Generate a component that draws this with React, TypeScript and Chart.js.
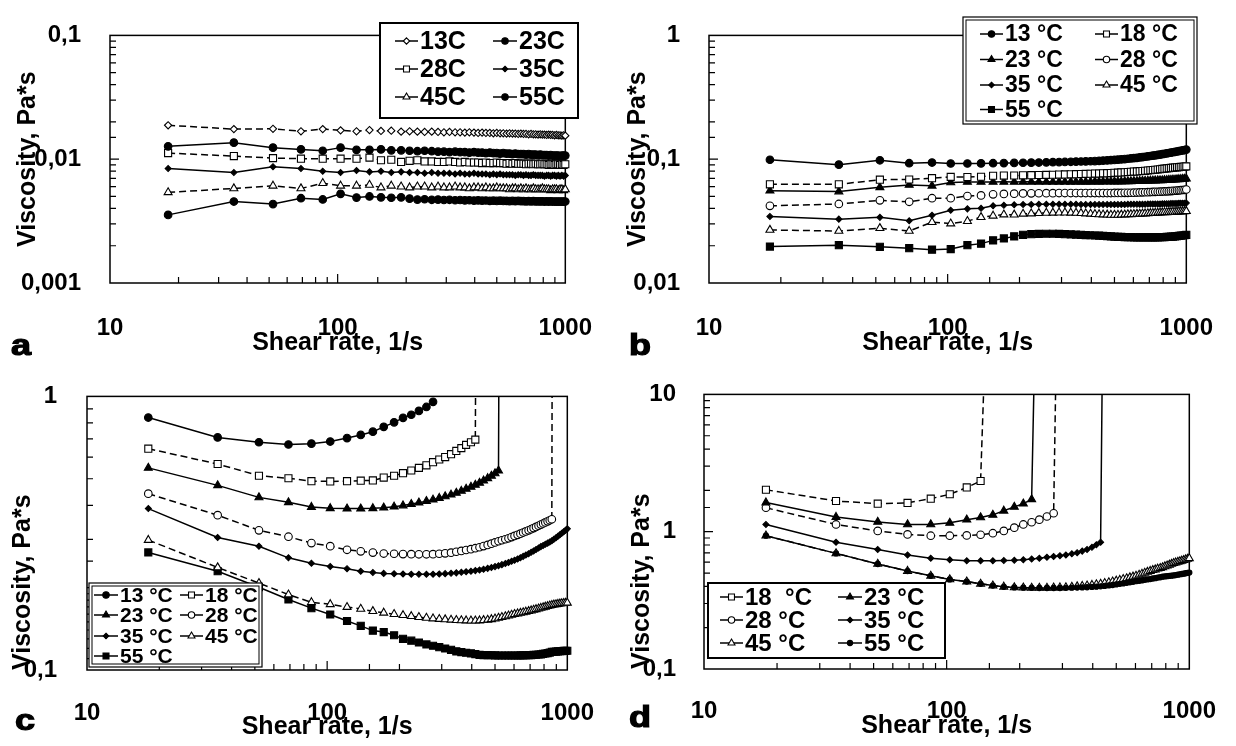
import { useEffect, useRef } from 'react';
import { Chart, registerables } from 'chart.js';

Chart.register(...registerables);

const FONT = "'Liberation Sans', Arial, Helvetica, sans-serif";

// shear rate, 1/s (measurement points)
const shearRate = [
  18, 35, 52, 69, 86, 103, 121, 138, 155, 172,
  190, 207, 224, 241, 259, 276, 293, 310, 328, 345,
  362, 379, 397, 414, 431, 448, 466, 483, 500, 517,
  534, 552, 569, 586, 603, 621, 638, 655, 672, 690,
  707, 724, 741, 759, 776, 793, 810, 828, 845, 862,
  879, 897, 914, 931, 948, 966, 983, 1000,
];

const xTickLabels = ['10', '100', '1000'];
const yTickLabelsA = ['0,001', '0,01', '0,1'];
const yTickLabelsB = ['0,01', '0,1', '1'];
const yTickLabelsC = ['0,1', '1'];
const yTickLabelsD = ['0,1', '1', '10'];

// ---------- panel a ----------
const a13 = [
  0.0188, 0.0175, 0.0176, 0.0168, 0.0175, 0.0171, 0.0168, 0.0172, 0.0169, 0.0170,
  0.0167, 0.0168, 0.0167, 0.0166, 0.0167, 0.0166, 0.0165, 0.0166, 0.0165, 0.0165,
  0.0164, 0.0165, 0.0164, 0.0163, 0.0164, 0.0163, 0.0163, 0.0162, 0.0163, 0.0162,
  0.0162, 0.0161, 0.0162, 0.0161, 0.0161, 0.0160, 0.0161, 0.0160, 0.0160, 0.0159,
  0.0160, 0.0159, 0.0159, 0.0158, 0.0159, 0.0158, 0.0158, 0.0157, 0.0158, 0.0157,
  0.0157, 0.0156, 0.0157, 0.0156, 0.0156, 0.0155, 0.0156, 0.0155,
];
const a23 = [
  0.0127, 0.0136, 0.0124, 0.0120, 0.0117, 0.0124, 0.0119, 0.0119, 0.0120, 0.0118,
  0.0118, 0.0117, 0.0116, 0.0117, 0.0116, 0.0115, 0.0115, 0.0114, 0.0115, 0.0114,
  0.0114, 0.0113, 0.0114, 0.0113, 0.0113, 0.0112, 0.0113, 0.0112, 0.0112, 0.0111,
  0.0112, 0.0111, 0.0111, 0.0110, 0.0111, 0.0110, 0.0110, 0.0110, 0.0109, 0.0110,
  0.0109, 0.0109, 0.0109, 0.0108, 0.0109, 0.0108, 0.0108, 0.0108, 0.0107, 0.0108,
  0.0107, 0.0107, 0.0107, 0.0107, 0.0106, 0.0107, 0.0107, 0.0107,
];
const a28 = [
  0.0112, 0.0106, 0.0102, 0.0101, 0.0101, 0.0101, 0.0101, 0.0103, 0.0098, 0.0099,
  0.0095, 0.0097, 0.0098, 0.0096, 0.0096, 0.0095, 0.0095, 0.0096, 0.0095, 0.0094,
  0.0095, 0.0094, 0.0094, 0.0094, 0.0093, 0.0094, 0.0093, 0.0093, 0.0094, 0.0093,
  0.0093, 0.0092, 0.0093, 0.0092, 0.0093, 0.0092, 0.0092, 0.0092, 0.0091, 0.0092,
  0.0092, 0.0091, 0.0092, 0.0091, 0.0091, 0.0092, 0.0091, 0.0091, 0.0090, 0.0091,
  0.0091, 0.0090, 0.0091, 0.0091, 0.0090, 0.0091, 0.0090, 0.0091,
];
const a35 = [
  0.0084, 0.0078, 0.0087, 0.0084, 0.0080, 0.0078, 0.0081, 0.0079, 0.0080, 0.0078,
  0.0079, 0.0078, 0.0078, 0.0077, 0.0078, 0.0077, 0.0077, 0.0077, 0.0076, 0.0077,
  0.0076, 0.0076, 0.0077, 0.0076, 0.0076, 0.0076, 0.0075, 0.0076, 0.0075, 0.0076,
  0.0075, 0.0075, 0.0075, 0.0075, 0.0074, 0.0075, 0.0075, 0.0074, 0.0075, 0.0074,
  0.0074, 0.0075, 0.0074, 0.0074, 0.0074, 0.0074, 0.0073, 0.0074, 0.0074, 0.0073,
  0.0074, 0.0074, 0.0073, 0.0074, 0.0073, 0.0074, 0.0073, 0.0074,
];
const a45 = [
  0.0054, 0.0058, 0.0061, 0.0058, 0.0064, 0.0061, 0.0061, 0.0062, 0.0059, 0.0061,
  0.0060, 0.0059, 0.0060, 0.0060, 0.0059, 0.0060, 0.0059, 0.0059, 0.0060, 0.0059,
  0.0059, 0.0058, 0.0059, 0.0059, 0.0058, 0.0059, 0.0058, 0.0058, 0.0059, 0.0058,
  0.0058, 0.0058, 0.0057, 0.0058, 0.0058, 0.0057, 0.0058, 0.0057, 0.0058, 0.0057,
  0.0057, 0.0058, 0.0057, 0.0057, 0.0057, 0.0058, 0.0057, 0.0057, 0.0057, 0.0056,
  0.0057, 0.0057, 0.0057, 0.0056, 0.0057, 0.0057, 0.0056, 0.0057,
];
const a55 = [
  0.00355, 0.00455, 0.00434, 0.00484, 0.00473, 0.00525, 0.00490, 0.00500, 0.00492, 0.00488,
  0.00492, 0.00480, 0.00472, 0.00475, 0.00470, 0.00472, 0.00468, 0.00470, 0.00466, 0.00468,
  0.00465, 0.00466, 0.00463, 0.00465, 0.00462, 0.00464, 0.00461, 0.00462, 0.00460, 0.00462,
  0.00460, 0.00461, 0.00459, 0.00460, 0.00458, 0.00460, 0.00458, 0.00459, 0.00457, 0.00458,
  0.00457, 0.00458, 0.00456, 0.00457, 0.00456, 0.00457, 0.00455, 0.00456, 0.00455, 0.00456,
  0.00455, 0.00455, 0.00454, 0.00455, 0.00454, 0.00455, 0.00454, 0.00455,
];

// ---------- panel b ----------
const b13 = [
  0.099, 0.0904, 0.098, 0.0928, 0.094, 0.0923, 0.0923, 0.0925, 0.0928, 0.093,
  0.0933, 0.0936, 0.0938, 0.094, 0.0943, 0.0946, 0.0948, 0.095, 0.0953, 0.0956,
  0.0958, 0.096, 0.0963, 0.0966, 0.097, 0.0974, 0.0978, 0.0982, 0.0987, 0.0992,
  0.0997, 0.1002, 0.1008, 0.1014, 0.102, 0.1026, 0.1033, 0.104, 0.1047, 0.1054,
  0.1061, 0.1068, 0.1075, 0.1082, 0.109, 0.1098, 0.1106, 0.1114, 0.1122, 0.113,
  0.1138, 0.1146, 0.1154, 0.1162, 0.117, 0.1178, 0.1186, 0.1195,
];
const b18 = [
  0.0627, 0.0627, 0.0683, 0.0686, 0.0703, 0.072, 0.0718, 0.0722, 0.0735, 0.0737,
  0.0739, 0.0741, 0.0743, 0.0745, 0.0747, 0.0749, 0.0751, 0.0753, 0.0755, 0.0757,
  0.0759, 0.0761, 0.0763, 0.0765, 0.0767, 0.0769, 0.0771, 0.0773, 0.0776, 0.0779,
  0.0782, 0.0785, 0.0788, 0.0791, 0.0794, 0.0797, 0.08, 0.0803, 0.0806, 0.081,
  0.0814, 0.0818, 0.0822, 0.0826, 0.083, 0.0834, 0.0838, 0.0842, 0.0846, 0.085,
  0.0854, 0.0857, 0.086, 0.0863, 0.0866, 0.0869, 0.0872, 0.0875,
];
const b23 = [
  0.0556, 0.0548, 0.0593, 0.062, 0.061, 0.0649, 0.0655, 0.0655, 0.0655, 0.0656,
  0.0655, 0.0656, 0.0656, 0.0655, 0.0656, 0.0656, 0.0656, 0.0657, 0.0656, 0.0657,
  0.0657, 0.0657, 0.0657, 0.0658, 0.0657, 0.0658, 0.0658, 0.0659, 0.0659, 0.066,
  0.066, 0.0661, 0.0662, 0.0663, 0.0664, 0.0665, 0.0666, 0.0667, 0.0668, 0.0669,
  0.067, 0.0671, 0.0672, 0.0673, 0.0674, 0.0675, 0.0677, 0.0678, 0.068, 0.0681,
  0.0683, 0.0684, 0.0686, 0.0688, 0.069, 0.0692, 0.0694, 0.0696,
];
const b28 = [
  0.042, 0.0435, 0.0465, 0.0453, 0.0484, 0.0484, 0.0504, 0.051, 0.052, 0.0524,
  0.0527, 0.0529, 0.053, 0.0531, 0.0532, 0.0532, 0.0533, 0.0533, 0.0533, 0.0533,
  0.0533, 0.0533, 0.0533, 0.0533, 0.0533, 0.0533, 0.0533, 0.0533, 0.0534, 0.0534,
  0.0534, 0.0535, 0.0535, 0.0536, 0.0537, 0.0538, 0.0539, 0.054, 0.0541, 0.0542,
  0.0543, 0.0544, 0.0545, 0.0546, 0.0547, 0.0548, 0.0549, 0.055, 0.0552, 0.0553,
  0.0555, 0.0556, 0.0558, 0.056, 0.0562, 0.0564, 0.0566, 0.0569,
];
const b35 = [
  0.0345, 0.0328, 0.0339, 0.0318, 0.0353, 0.0387, 0.0397, 0.0401, 0.042, 0.0424,
  0.0428, 0.043, 0.0431, 0.0432, 0.0432, 0.0432, 0.0432, 0.0432, 0.0432, 0.0432,
  0.0431, 0.0431, 0.0431, 0.0431, 0.0431, 0.0431, 0.0431, 0.0431, 0.0431, 0.0431,
  0.0431, 0.0431, 0.0432, 0.0432, 0.0432, 0.0432, 0.0433, 0.0433, 0.0433, 0.0434,
  0.0434, 0.0434, 0.0435, 0.0435, 0.0435, 0.0436, 0.0436, 0.0437, 0.0437, 0.0438,
  0.0438, 0.0439, 0.0439, 0.044, 0.044, 0.0441, 0.0441, 0.0442,
];
const b45 = [
  0.0268, 0.0263, 0.0277, 0.0263, 0.031, 0.0302, 0.0316, 0.034, 0.0349, 0.0357,
  0.0356, 0.0362, 0.0364, 0.0366, 0.0368, 0.0369, 0.037, 0.037, 0.0369, 0.0368,
  0.0366, 0.0364, 0.0362, 0.036, 0.0358, 0.0357, 0.0356, 0.0355, 0.0355, 0.0355,
  0.0356, 0.0357, 0.0358, 0.0359, 0.036, 0.0361, 0.0362, 0.0363, 0.0364, 0.0365,
  0.0366, 0.0367, 0.0368, 0.0369, 0.037, 0.0371, 0.0372, 0.0372, 0.0373, 0.0374,
  0.0375, 0.0375, 0.0376, 0.0377, 0.0377, 0.0378, 0.0379, 0.038,
];
const b55 = [
  0.0197, 0.0202, 0.0196, 0.0191, 0.0186, 0.0188, 0.0202, 0.0208, 0.0221, 0.0229,
  0.0238, 0.0245, 0.0248, 0.0249, 0.025, 0.025, 0.0249, 0.0248, 0.0247, 0.0246,
  0.0245, 0.0244, 0.0243, 0.0242, 0.0241, 0.024, 0.0239, 0.0238, 0.0237, 0.0236,
  0.0236, 0.0235, 0.0235, 0.0235, 0.0234, 0.0234, 0.0234, 0.0234, 0.0234, 0.0234,
  0.0234, 0.0234, 0.0234, 0.0234, 0.0235, 0.0235, 0.0235, 0.0236, 0.0236, 0.0237,
  0.0237, 0.0238, 0.0239, 0.024, 0.0241, 0.0242, 0.0243, 0.0245,
];

// ---------- panel c ----------
const c13 = [
  0.837, 0.708, 0.68, 0.667, 0.672, 0.684, 0.704, 0.723, 0.743, 0.774,
  0.804, 0.835, 0.857, 0.885, 0.915, 0.955,
];
const c18 = [
  0.644, 0.566, 0.513, 0.502, 0.49, 0.489, 0.49, 0.492, 0.493, 0.505,
  0.513, 0.524, 0.536, 0.548, 0.56, 0.575, 0.588, 0.6, 0.615, 0.632,
  0.647, 0.665, 0.68, 0.695, 1000,
];
const c23 = [
  0.548, 0.473, 0.4275, 0.41, 0.394, 0.39, 0.389, 0.389, 0.39, 0.392,
  0.395, 0.399, 0.404, 0.409, 0.414, 0.419, 0.425, 0.431, 0.437, 0.444,
  0.451, 0.459, 0.467, 0.475, 0.483, 0.492, 0.502, 0.512, 0.523, 0.535, 1000,
];
const c28 = [
  0.441, 0.368, 0.324, 0.307, 0.291, 0.2835, 0.275, 0.2715, 0.2686, 0.2665,
  0.266, 0.2653, 0.265, 0.2648, 0.2648, 0.265, 0.266, 0.267, 0.2685, 0.2705,
  0.2725, 0.2745, 0.2765, 0.2787, 0.281, 0.2837, 0.2866, 0.2895, 0.2925, 0.2955,
  0.298, 0.3005, 0.303, 0.306, 0.309, 0.312, 0.315, 0.318, 0.321, 0.324,
  0.327, 0.3302, 0.3334, 0.3367, 0.34, 0.3431, 0.3462, 0.3494, 0.3525, 0.3556, 1000,
];
const c35 = [
  0.389, 0.305, 0.2835, 0.257, 0.2457, 0.239, 0.2345, 0.2297, 0.227, 0.2255,
  0.2248, 0.2243, 0.224, 0.2238, 0.2238, 0.224, 0.2245, 0.225, 0.2257, 0.2265,
  0.2275, 0.2286, 0.2297, 0.2308, 0.232, 0.2336, 0.2352, 0.2369, 0.2387, 0.2405,
  0.2427, 0.2449, 0.2472, 0.2496, 0.252, 0.2547, 0.2574, 0.2602, 0.2631, 0.266,
  0.2692, 0.2724, 0.2757, 0.2791, 0.2825, 0.2853, 0.2881, 0.2909, 0.2937, 0.2966,
  0.3003, 0.3041, 0.308, 0.312, 0.316, 0.32, 0.324, 0.328,
];
const c45 = [
  0.2985, 0.237, 0.2078, 0.1886, 0.1768, 0.1738, 0.1698, 0.1672, 0.164, 0.1618,
  0.16, 0.1585, 0.1572, 0.156, 0.155, 0.1542, 0.1535, 0.153, 0.1525, 0.1521,
  0.1518, 0.1516, 0.1515, 0.1515, 0.1516, 0.152, 0.1525, 0.1532, 0.154, 0.155,
  0.156, 0.157, 0.158, 0.159, 0.16, 0.1608, 0.1616, 0.1624, 0.1632, 0.164,
  0.1649, 0.1658, 0.1667, 0.1676, 0.1685, 0.1693, 0.1702, 0.171, 0.1718, 0.1727,
  0.1732, 0.1737, 0.1742, 0.1747, 0.1751, 0.1755, 0.1758, 0.176,
];
const c55 = [
  0.269, 0.2297, 0.2006, 0.181, 0.1683, 0.1595, 0.151, 0.145, 0.1393, 0.1376,
  0.134, 0.13, 0.128, 0.126, 0.124, 0.1226, 0.1212, 0.1198, 0.1185, 0.117,
  0.1163, 0.1156, 0.115, 0.1143, 0.1136, 0.1134, 0.1133, 0.1132, 0.1131, 0.113,
  0.113, 0.113, 0.113, 0.113, 0.113, 0.113, 0.1131, 0.1131, 0.1132, 0.1133,
  0.1134, 0.1135, 0.1137, 0.1139, 0.1141, 0.1145, 0.1149, 0.1153, 0.1158, 0.1164,
  0.1166, 0.1168, 0.117, 0.1171, 0.1172, 0.1174, 0.1175, 0.1176,
];

// ---------- panel d ----------
const d18 = [2.02, 1.673, 1.6, 1.62, 1.74, 1.873, 2.1, 2.34, 1000];
const d23 = [1.63, 1.278, 1.178, 1.13, 1.13, 1.16, 1.224, 1.27, 1.327, 1.42, 1.517, 1.6, 1.72, 1000];
const d28 = [
  1.494, 1.129, 1.013, 0.955, 0.935, 0.935, 0.94, 0.95, 0.975, 1.013,
  1.07, 1.129, 1.172, 1.224, 1.29, 1.363, 1000,
];
const d35 = [
  1.129, 0.839, 0.742, 0.677, 0.641, 0.624, 0.614, 0.614, 0.614, 0.616,
  0.619, 0.624, 0.632, 0.641, 0.652, 0.66, 0.668, 0.677, 0.69, 0.703,
  0.722, 0.742, 0.77, 0.803, 0.839, 1000,
];
const d45 = [
  0.935, 0.695, 0.582, 0.517, 0.477, 0.449, 0.433, 0.417, 0.405, 0.397,
  0.393, 0.391, 0.39, 0.39, 0.39, 0.391, 0.392, 0.393, 0.396, 0.399,
  0.402, 0.405, 0.409, 0.413, 0.417, 0.422, 0.427, 0.433, 0.439, 0.4445,
  0.451, 0.457, 0.464, 0.47, 0.477, 0.485, 0.493, 0.501, 0.509, 0.517,
  0.524, 0.53, 0.537, 0.543, 0.55, 0.558, 0.566, 0.574, 0.582, 0.59,
  0.596, 0.602, 0.608, 0.614, 0.62, 0.627, 0.633, 0.64,
];
const d55 = [
  0.935, 0.695, 0.582, 0.517, 0.477, 0.449, 0.433, 0.417, 0.405, 0.397,
  0.393, 0.391, 0.39, 0.389, 0.389, 0.389, 0.389, 0.39, 0.391, 0.392,
  0.393, 0.394, 0.396, 0.398, 0.4, 0.403, 0.406, 0.409, 0.413, 0.417,
  0.42, 0.424, 0.428, 0.432, 0.436, 0.439, 0.442, 0.446, 0.449, 0.452,
  0.456, 0.459, 0.463, 0.466, 0.47, 0.472, 0.474, 0.476, 0.478, 0.48,
  0.483, 0.486, 0.489, 0.492, 0.495, 0.498, 0.501, 0.504,
];

type MarkerKind =
  | 'openDiamond' | 'filledCircle' | 'openCircle' | 'openSquare' | 'filledSquare'
  | 'filledTriangle' | 'openTriangle' | 'smallDiamond' | 'dot';

const MARKER_STYLE: Record<MarkerKind, { style: string; fill: string; r: number; lr: number }> = {
  openDiamond: { style: 'rectRot', fill: '#fff', r: 3.6, lr: 3.2 },
  filledCircle: { style: 'circle', fill: '#000', r: 3.8, lr: 3.2 },
  openCircle: { style: 'circle', fill: '#fff', r: 3.8, lr: 3.2 },
  openSquare: { style: 'rect', fill: '#fff', r: 5, lr: 4.2 },
  filledSquare: { style: 'rect', fill: '#000', r: 5, lr: 4.2 },
  filledTriangle: { style: 'triangle', fill: '#000', r: 4.6, lr: 4 },
  openTriangle: { style: 'triangle', fill: '#fff', r: 4.6, lr: 4 },
  smallDiamond: { style: 'rectRot', fill: '#000', r: 3, lr: 2.8 },
  dot: { style: 'circle', fill: '#000', r: 2.6, lr: 2.6 },
};

interface SeriesDef { label: string; values: number[]; marker: MarkerKind; dashed: boolean; order?: number }
interface LegendDef {
  box: [number, number, number, number]; double: boolean;
  rows: number[]; cols: [number, number, number][]; fontSize: number;
}
interface PanelDef {
  left: number; top: number; width: number; height: number;
  area: { left: number; top: number; right: number; bottom: number };
  yMin: number; yMax: number; yLabels: string[];
  yTickPad: number; yTitlePad: number; yTitleAlign: 'center' | 'start';
  xTickPad: number; xTitlePad: number;
  series: SeriesDef[];
  legend: LegendDef;
  letter: { text: string; x: number; y: number };
}

const PANELS: PanelDef[] = [
  {
    left: 0, top: 0, width: 615, height: 360,
    area: { left: 110, top: 17, right: 585, bottom: 283 },
    yMin: 0.001, yMax: 0.1, yLabels: yTickLabelsA,
    yTickPad: 21, yTitlePad: 13, yTitleAlign: 'center',
    xTickPad: 23, xTitlePad: 2,
    series: [
      { label: '13C', values: a13, marker: 'openDiamond', dashed: true },
      { label: '23C', values: a23, marker: 'filledCircle', dashed: false },
      { label: '28C', values: a28, marker: 'openSquare', dashed: true },
      { label: '35C', values: a35, marker: 'smallDiamond', dashed: false },
      { label: '45C', values: a45, marker: 'openTriangle', dashed: true },
      { label: '55C', values: a55, marker: 'filledCircle', dashed: false },
    ],
    legend: { box: [380, 23, 198, 95], double: false, rows: [41, 69, 97], cols: [[395, 418, 420], [493, 517, 519]], fontSize: 25 },
    letter: { text: 'a', x: 11, y: 355 },
  },
  {
    left: 615, top: 0, width: 621, height: 360,
    area: { left: 94, top: 15, right: 585, bottom: 283 },
    yMin: 0.01, yMax: 1, yLabels: yTickLabelsB,
    yTickPad: 21, yTitlePad: 8, yTitleAlign: 'center',
    xTickPad: 23, xTitlePad: 2,
    series: [
      { label: '13 °C', values: b13, marker: 'filledCircle', dashed: false },
      { label: '18 °C', values: b18, marker: 'openSquare', dashed: true },
      { label: '23 °C', values: b23, marker: 'filledTriangle', dashed: false },
      { label: '28 °C', values: b28, marker: 'openCircle', dashed: true },
      { label: '35 °C', values: b35, marker: 'smallDiamond', dashed: false },
      { label: '45 °C', values: b45, marker: 'openTriangle', dashed: true },
      { label: '55 °C', values: b55, marker: 'filledSquare', dashed: false },
    ],
    legend: { box: [348, 17, 234, 107], double: true, rows: [34, 59.5, 85, 109.5], cols: [[365, 388, 390], [480, 503, 505]], fontSize: 23 },
    letter: { text: 'b', x: 14, y: 355 },
  },
  {
    left: 0, top: 360, width: 615, height: 386,
    area: { left: 87, top: 25, right: 585, bottom: 310 },
    yMin: 0.1, yMax: 1, yLabels: yTickLabelsC,
    yTickPad: 22, yTitlePad: 8, yTitleAlign: 'start',
    xTickPad: 21, xTitlePad: 4,
    series: [
      { label: '13 °C', values: c13, marker: 'filledCircle', dashed: false },
      { label: '18 °C', values: c18, marker: 'openSquare', dashed: true },
      { label: '23 °C', values: c23, marker: 'filledTriangle', dashed: false },
      { label: '28 °C', values: c28, marker: 'openCircle', dashed: true },
      { label: '35 °C', values: c35, marker: 'smallDiamond', dashed: false },
      { label: '45 °C', values: c45, marker: 'openTriangle', dashed: true },
      { label: '55 °C', values: c55, marker: 'filledSquare', dashed: false },
    ],
    legend: { box: [89, 223, 173, 84], double: true, rows: [235, 255, 276, 296], cols: [[94, 118, 120], [180, 203, 205]], fontSize: 21 },
    letter: { text: 'c', x: 15, y: 370 },
  },
  {
    left: 615, top: 360, width: 621, height: 386,
    area: { left: 89, top: 23, right: 585, bottom: 309 },
    yMin: 0.1, yMax: 10, yLabels: yTickLabelsD,
    yTickPad: 20, yTitlePad: 12, yTitleAlign: 'start',
    xTickPad: 20, xTitlePad: 5,
    series: [
      { label: '18  °C', values: d18, marker: 'openSquare', dashed: true },
      { label: '23 °C', values: d23, marker: 'filledTriangle', dashed: false },
      { label: '28 °C', values: d28, marker: 'openCircle', dashed: true },
      { label: '35 °C', values: d35, marker: 'smallDiamond', dashed: false },
      { label: '45 °C', values: d45, marker: 'openTriangle', dashed: true },
      { label: '55 °C', values: d55, marker: 'dot', dashed: false, order: -1 },
    ],
    legend: { box: [93, 223, 237, 75], double: false, rows: [237, 260, 283], cols: [[105, 128, 130], [223, 247, 249]], fontSize: 24 },
    letter: { text: 'd', x: 14, y: 367 },
  },
];

const fmt = (v: number) => String(+Number(v).toPrecision(6)).replace('.', ',');
const isDecade = (v: number) => {
  const l = Math.log10(v);
  return Math.abs(l - Math.round(l)) < 1e-6;
};

function drawMarker(ctx: CanvasRenderingContext2D, kind: MarkerKind, x: number, y: number) {
  const m = MARKER_STYLE[kind];
  const r = m.lr;
  ctx.save();
  ctx.fillStyle = m.fill;
  ctx.strokeStyle = '#000';
  ctx.lineWidth = 1.1;
  ctx.beginPath();
  if (m.style === 'circle') {
    ctx.arc(x, y, r, 0, Math.PI * 2);
  } else if (m.style === 'rect') {
    const s = r * Math.SQRT1_2;
    ctx.rect(x - s, y - s, 2 * s, 2 * s);
  } else if (m.style === 'triangle') {
    ctx.moveTo(x, y - r);
    ctx.lineTo(x + r * 0.87, y + r * 0.5);
    ctx.lineTo(x - r * 0.87, y + r * 0.5);
    ctx.closePath();
  } else {
    ctx.moveTo(x, y - r);
    ctx.lineTo(x + r, y);
    ctx.lineTo(x, y + r);
    ctx.lineTo(x - r, y);
    ctx.closePath();
  }
  ctx.fill();
  ctx.stroke();
  ctx.restore();
}

function makeDecor(def: PanelDef) {
  return {
    id: 'decor',
    beforeDatasetsDraw(chart: any) {
      const { ctx, chartArea: a, scales } = chart;
      ctx.save();
      ctx.strokeStyle = '#000';
      ctx.lineWidth = 1.5;
      ctx.strokeRect(a.left, a.top, a.right - a.left, a.bottom - a.top);
      ctx.lineWidth = 1.2;
      ctx.beginPath();
      for (const t of scales.x.ticks) {
        const px = scales.x.getPixelForValue(t.value);
        if (px <= a.left + 1 || px >= a.right - 1) continue;
        const len = isDecade(t.value) ? 9 : 6;
        ctx.moveTo(px, a.bottom);
        ctx.lineTo(px, a.bottom - len);
      }
      for (const t of scales.y.ticks) {
        const py = scales.y.getPixelForValue(t.value);
        if (py <= a.top + 1 || py >= a.bottom - 1) continue;
        const len = isDecade(t.value) ? 9 : 6;
        ctx.moveTo(a.left, py);
        ctx.lineTo(a.left + len, py);
      }
      ctx.stroke();
      ctx.restore();
    },
    afterDatasetsDraw(chart: any) {
      const { ctx } = chart;
      const lg = def.legend;
      const [bx, by, bw, bh] = lg.box;
      ctx.save();
      ctx.fillStyle = '#fff';
      ctx.fillRect(bx, by, bw, bh);
      ctx.strokeStyle = '#000';
      if (lg.double) {
        ctx.lineWidth = 1.2;
        ctx.strokeRect(bx, by, bw, bh);
        ctx.lineWidth = 1;
        ctx.strokeRect(bx + 3, by + 3, bw - 6, bh - 6);
      } else {
        ctx.lineWidth = 2;
        ctx.strokeRect(bx, by, bw, bh);
      }
      ctx.font = `bold ${lg.fontSize}px ${FONT}`;
      ctx.textBaseline = 'middle';
      ctx.textAlign = 'left';
      def.series.forEach((s, i) => {
        const row = Math.floor(i / 2);
        const col = lg.cols[i % 2];
        const y = lg.rows[row];
        ctx.strokeStyle = '#000';
        ctx.lineWidth = 1.5;
        ctx.beginPath();
        ctx.moveTo(col[0], y);
        ctx.lineTo(col[1], y);
        ctx.stroke();
        drawMarker(ctx, s.marker, (col[0] + col[1]) / 2, y);
        ctx.fillStyle = '#000';
        ctx.fillText(s.label, col[2], y + 1);
      });
      ctx.restore();
    },
    afterDraw(chart: any) {
      const { ctx } = chart;
      ctx.save();
      ctx.fillStyle = '#000';
      ctx.strokeStyle = '#000';
      ctx.lineWidth = 1.2;
      ctx.font = `bold 30px ${FONT}`;
      ctx.textBaseline = 'alphabetic';
      ctx.translate(def.letter.x, def.letter.y);
      ctx.scale(1.2, 1);
      ctx.fillText(def.letter.text, 0, 0);
      ctx.strokeText(def.letter.text, 0, 0);
      ctx.restore();
    },
  };
}

function Panel({ def }: { def: PanelDef }) {
  const ref = useRef<HTMLCanvasElement>(null);
  useEffect(() => {
    const canvas = ref.current;
    if (!canvas) return;
    const tickFont = { family: FONT, size: 24, weight: 'bold' as const, lineHeight: 1.2 };
    const titleFont = { family: FONT, size: 25, weight: 'bold' as const, lineHeight: 1.2 };
    const chart = new Chart(canvas, {
      type: 'line',
      data: {
        datasets: def.series.map((s) => {
          const m = MARKER_STYLE[s.marker];
          return {
            label: s.label,
            data: s.values.map((y, i) => ({ x: shearRate[i], y })),
            borderColor: '#000',
            borderWidth: 1.5,
            borderDash: s.dashed ? [7, 4] : [],
            pointStyle: m.style as any,
            pointRadius: m.r,
            pointBackgroundColor: m.fill,
            pointBorderColor: '#000',
            pointBorderWidth: 1.1,
            tension: 0,
            fill: false,
            clip: { left: 8, top: 0, right: 8, bottom: 8 } as any,
            order: s.order ?? 0,
          };
        }),
      },
      options: {
        responsive: false,
        maintainAspectRatio: false,
        animation: false,
        devicePixelRatio: 1,
        events: [],
        layout: {
          padding: { left: 0, top: def.area.top, right: def.width - def.area.right, bottom: 0 },
        },
        plugins: { legend: { display: false }, tooltip: { enabled: false } },
        scales: {
          x: {
            type: 'logarithmic',
            min: 10,
            max: 1000,
            grid: { display: false },
            border: { display: false },
            ticks: {
              autoSkip: false,
              maxRotation: 0,
              minRotation: 0,
              padding: def.xTickPad,
              color: '#000',
              font: tickFont,
              callback: (v: any) => {
                const s = fmt(Number(v));
                return xTickLabels.includes(s) ? s : '';
              },
            },
            title: {
              display: true,
              text: 'Shear rate, 1/s',
              color: '#000',
              font: titleFont,
              padding: { top: 0, bottom: def.xTitlePad },
            },
            afterFit: (scale: any) => {
              scale.height = def.height - def.area.bottom;
            },
          },
          y: {
            type: 'logarithmic',
            min: def.yMin,
            max: def.yMax,
            grid: { display: false },
            border: { display: false },
            ticks: {
              autoSkip: false,
              padding: def.yTickPad,
              color: '#000',
              font: tickFont,
              callback: (v: any) => {
                const s = fmt(Number(v));
                return def.yLabels.includes(s) ? s : '';
              },
            },
            title: {
              display: true,
              text: 'Viscosity, Pa*s',
              color: '#000',
              font: titleFont,
              align: def.yTitleAlign,
              padding: { top: def.yTitlePad, bottom: 0 },
            },
            afterFit: (scale: any) => {
              scale.width = def.area.left;
            },
          },
        },
      },
      plugins: [makeDecor(def)],
    } as any);
    return () => chart.destroy();
  }, [def]);
  return (
    <canvas
      ref={ref}
      width={def.width}
      height={def.height}
      style={{ position: 'absolute', left: def.left, top: def.top, width: def.width, height: def.height }}
    />
  );
}

export default function App() {
  return (
    <div style={{ position: 'absolute', left: 0, top: 0, width: 1236, height: 746, background: '#fff', overflow: 'hidden' }}>
      {PANELS.map((p, i) => (
        <Panel key={i} def={p} />
      ))}
    </div>
  );
}
